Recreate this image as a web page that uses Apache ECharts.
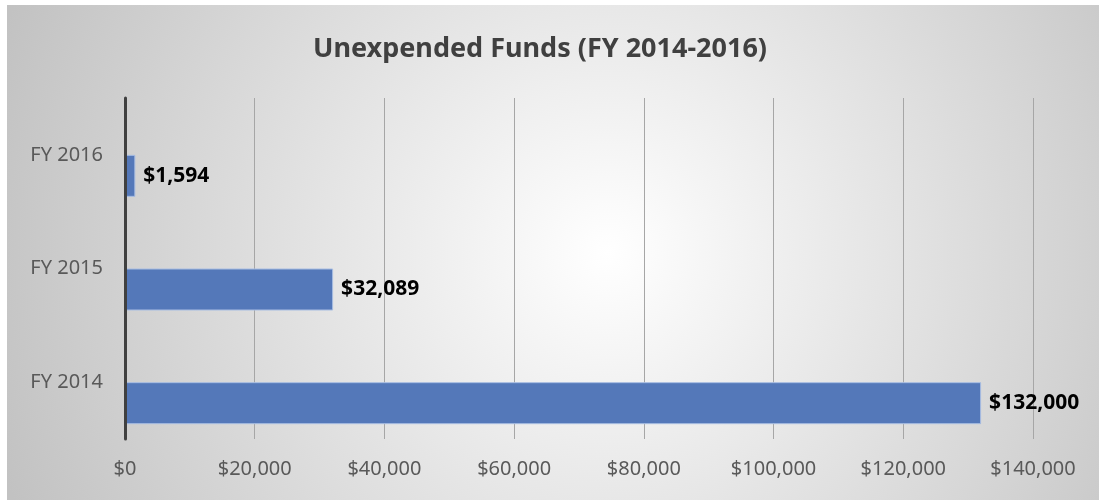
<!DOCTYPE html>
<html>
<head>
<meta charset="utf-8">
<script src="https://cdn.jsdelivr.net/npm/echarts@6/dist/echarts.min.js"></script>
<style>
  html, body { margin: 0; padding: 0; background: #fff; }
  #chart { position: absolute; left: 7px; top: 5px; width: 1092px; height: 495px; }
</style>
</head>
<body>
<div id="chart"></div>
<script>
// values
const years = ['FY 2014', 'FY 2015', 'FY 2016']
const unexpended = [132000, 32089, 1594]
const axisMax = 140000
const axisStep = 20000

const money = (v) => '$' + Number(v).toLocaleString('en-US')

const chart = echarts.init(document.getElementById('chart'))

const option = {
  backgroundColor: {
    type: 'radial', x: 0.55, y: 0.5, r: 1.3,
    colorStops: [
      { offset: 0, color: '#ffffff' },
      { offset: 1, color: '#c2c2c2' }
    ]
  },
  title: {
    text: 'Unexpended Funds (FY 2014-2016)',
    left: 528,
    textAlign: 'center',
    top: 26,
    textStyle: { fontFamily: 'Noto Sans', fontSize: 27, fontWeight: 'bold', color: '#404040' }
  },
  grid: { left: 118, top: 93, width: 908, height: 341 },
  xAxis: {
    type: 'value',
    min: 0,
    max: axisMax,
    interval: axisStep,
    axisLine: { show: false },
    axisTick: { show: false },
    axisLabel: {
      formatter: money,
      margin: 20,
      fontFamily: 'Noto Sans',
      fontSize: 20,
      color: '#595959'
    },
    splitLine: { lineStyle: { color: '#a6a6a6', width: 1 } }
  },
  yAxis: {
    type: 'category',
    data: years,
    z: 5,
    axisLine: { show: true, lineStyle: { color: '#404040', width: 3 } },
    axisTick: { show: false },
    axisLabel: {
      margin: 22,
      fontFamily: 'Noto Sans',
      fontSize: 20,
      color: '#595959'
    }
  },
  series: [
    // empty slot so the real bar sits in the lower half of each band, as in the original
    { type: 'bar', name: 'spacer', data: [], barWidth: 42, barGap: '0%' },
    {
      type: 'bar',
      name: 'Unexpended',
      data: unexpended,
      barWidth: 42,
      barGap: '0%',
      itemStyle: { color: '#5478b9', borderColor: '#a8bde2', borderWidth: 1 },
      label: {
        show: true,
        position: 'right',
        distance: 8,
        formatter: (p) => money(p.value),
        fontFamily: 'Noto Sans',
        fontSize: 21,
        fontWeight: 'bold',
        color: '#000'
      }
    }
  ]
}

chart.setOption(option)
</script>
</body>
</html>
